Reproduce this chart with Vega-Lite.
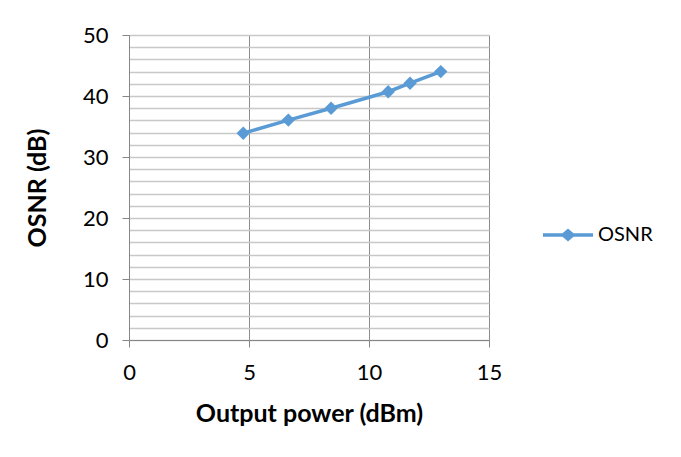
{
  "$schema": "https://vega.github.io/schema/vega-lite/v6.json",
  "width": 360,
  "height": 305,
  "autosize": {"type": "none"},
  "padding": {"left": 129, "top": 35, "right": 192, "bottom": 117},
  "background": "white",
  "data": {
    "values": [
      {"power": 4.76, "osnr": 33.9, "series": "OSNR"},
      {"power": 6.64, "osnr": 36.05, "series": "OSNR"},
      {"power": 8.42, "osnr": 38.0, "series": "OSNR"},
      {"power": 10.8, "osnr": 40.7, "series": "OSNR"},
      {"power": 11.71, "osnr": 42.1, "series": "OSNR"},
      {"power": 12.99, "osnr": 44.0, "series": "OSNR"}
    ]
  },
  "config": {
    "view": {"stroke": null},
    "font": "Lato",
    "axis": {
      "labelFont": "Lato",
      "labelFontSize": 22,
      "labelColor": "#000000",
      "titleFont": "Lato",
      "titleFontSize": 25,
      "titleFontWeight": "bold",
      "titleColor": "#000000",
      "domainColor": "#868686",
      "domainWidth": 1,
      "tickColor": "#868686",
      "tickSize": 7
    }
  },
  "encoding": {
    "x": {
      "field": "power",
      "type": "quantitative",
      "scale": {"domain": [0, 15], "nice": false, "zero": false},
      "axis": {
        "values": [0, 5, 10, 15],
        "title": "Output power (dBm)",
        "labelFlush": false,
        "labelPadding": 15,
        "titlePadding": 18,
        "gridColor": "#8c8c8c",
        "gridWidth": 1
      }
    },
    "y": {
      "field": "osnr",
      "type": "quantitative",
      "scale": {"domain": [0, 50], "nice": false},
      "axis": {
        "values": [0, 2, 4, 6, 8, 10, 12, 14, 16, 18, 20, 22, 24, 26, 28, 30, 32, 34, 36, 38, 40, 42, 44, 46, 48, 50],
        "labelExpr": "datum.value % 10 === 0 ? datum.label : ''",
        "labelFlush": false,
        "tickOpacity": {"condition": {"test": "datum.value % 10 === 0", "value": 1}, "value": 0},
        "title": "OSNR (dB)",
        "labelPadding": 14,
        "titlePadding": 32,
        "gridColor": "#c8c8c8",
        "gridWidth": 1.5
      }
    }
  },
  "layer": [
    {
      "mark": {"type": "line", "strokeWidth": 3.5},
      "encoding": {
        "color": {
          "field": "series",
          "type": "nominal",
          "scale": {"range": ["#5B9BD5"]},
          "legend": {
            "title": null,
            "orient": "none",
            "legendX": 414,
            "legendY": 175,
            "symbolType": "M-1,-0.07L-0.22,-0.07L0,-0.26L0.22,-0.07L1,-0.07L1,0.07L0.22,0.07L0,0.26L-0.22,0.07L-1,0.07Z",
            "symbolSize": 2500,
            "labelFont": "Lato",
            "labelFontSize": 20,
            "labelColor": "#000000",
            "labelOffset": 5,
            "encode": {
              "symbols": {"update": {"fill": {"value": "#5B9BD5"}, "stroke": {"value": "#5B9BD5"}, "strokeWidth": {"value": 0}, "opacity": {"value": 1}}}
            }
          }
        }
      }
    },
    {
      "mark": {"type": "point", "shape": "diamond", "filled": true, "size": 180, "color": "#5B9BD5", "opacity": 1}
    }
  ]
}
